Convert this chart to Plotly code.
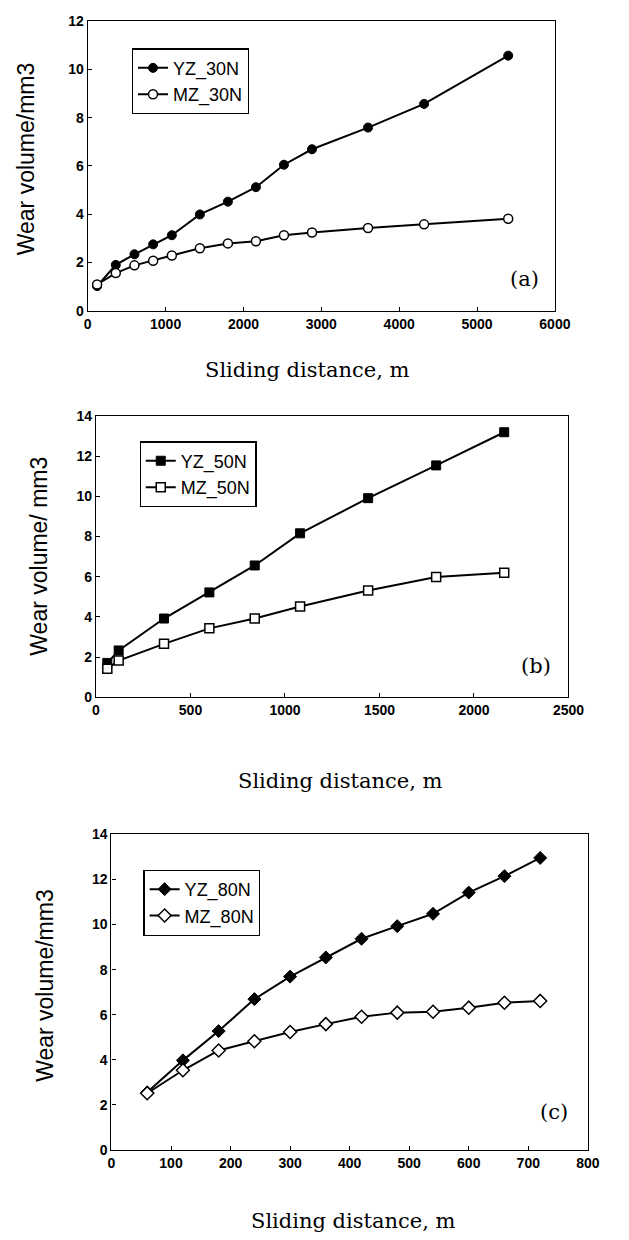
import plotly.graph_objects as go

# ---- data ----
dist_a = [120, 360, 600, 840, 1080, 1440, 1800, 2160, 2520, 2880, 3600, 4320, 5400]
yz_30n = [1.02, 1.90, 2.34, 2.75, 3.13, 3.99, 4.52, 5.12, 6.05, 6.69, 7.59, 8.57, 10.57]
mz_30n = [1.09, 1.56, 1.88, 2.07, 2.29, 2.59, 2.79, 2.88, 3.13, 3.24, 3.43, 3.58, 3.81]

dist_b = [60, 120, 360, 600, 840, 1080, 1440, 1800, 2160]
yz_50n = [1.71, 2.33, 3.92, 5.22, 6.56, 8.16, 9.91, 11.54, 13.19]
mz_50n = [1.42, 1.83, 2.66, 3.43, 3.92, 4.52, 5.31, 5.99, 6.20]

dist_c = [60, 120, 180, 240, 300, 360, 420, 480, 540, 600, 660, 720]
yz_80n = [2.55, 3.97, 5.27, 6.69, 7.69, 8.54, 9.37, 9.93, 10.48, 11.42, 12.15, 12.96]
mz_80n = [2.51, 3.53, 4.41, 4.82, 5.23, 5.58, 5.91, 6.09, 6.13, 6.31, 6.53, 6.61]

ticks_a = [0, 1000, 2000, 3000, 4000, 5000, 6000]
ticks_b = [0, 500, 1000, 1500, 2000, 2500]
ticks_c = [0, 100, 200, 300, 400, 500, 600, 700, 800]
yticks_a = [0, 2, 4, 6, 8, 10, 12]
yticks_bc = [0, 2, 4, 6, 8, 10, 12, 14]

W, H = 629, 1240
def px(x): return x / W
def py(y): return 1 - y / H

fig = go.Figure()

line = dict(color="black", width=2)

def add_pair(x, y1, y2, n1, n2, sym, size, xa, ya, leg):
    fig.add_trace(go.Scatter(x=x, y=y1, name=n1, mode="lines+markers",
                             line=line, xaxis=xa, yaxis=ya, legend=leg,
                             marker=dict(symbol=sym, size=size, color="black",
                                         line=dict(color="black", width=1))))
    fig.add_trace(go.Scatter(x=x, y=y2, name=n2, mode="lines+markers",
                             line=line, xaxis=xa, yaxis=ya, legend=leg,
                             marker=dict(symbol=sym, size=size, color="white",
                                         line=dict(color="black", width=1.5))))

add_pair(dist_a, yz_30n, mz_30n, "YZ_30N", "MZ_30N", "circle", 9, "x", "y", "legend")
add_pair(dist_b, yz_50n, mz_50n, "YZ_50N", "MZ_50N", "square", 9, "x2", "y2", "legend2")
add_pair(dist_c, yz_80n, mz_80n, "YZ_80N", "MZ_80N", "diamond", 10, "x3", "y3", "legend3")

tickfont = dict(family="Liberation Sans, Arial", size=14, color="black", weight="bold")
axcommon = dict(showline=True, linecolor="black", linewidth=1.2, mirror=True,
                ticks="inside", ticklen=4, tickcolor="black", tickwidth=1,
                showgrid=False, zeroline=False, tickfont=tickfont, fixedrange=True)

fig.update_layout(
    width=W, height=H, margin=dict(l=0, r=0, t=0, b=0),
    paper_bgcolor="white", plot_bgcolor="white",
    xaxis=dict(domain=[px(86.5), px(569)], anchor="y", range=[0, 6000],
               tickvals=ticks_a, **axcommon),
    yaxis=dict(domain=[py(306.7), py(13.3)], anchor="x", range=[0, 12],
               tickvals=yticks_a, **axcommon),
    xaxis2=dict(domain=[px(95), px(583)], anchor="y2", range=[0, 2500],
                tickvals=ticks_b, **axcommon),
    yaxis2=dict(domain=[py(698.3), py(413.3)], anchor="x2", range=[0, 14],
                tickvals=yticks_bc, **axcommon),
    xaxis3=dict(domain=[px(111), px(603)], anchor="y3", range=[0, 800],
                tickvals=ticks_c, **axcommon),
    yaxis3=dict(domain=[py(1156.7), py(837.3)], anchor="x3", range=[0, 14],
                tickvals=yticks_bc, **axcommon),
    showlegend=True,
)

legfont = dict(family="Liberation Sans, Arial", size=18, color="black")
legcommon = dict(font=legfont, bordercolor="black", borderwidth=1.2, bgcolor="white",
                 xanchor="left", yanchor="top", tracegroupgap=0, itemwidth=30)
fig.update_layout(
    legend=dict(x=px(132), y=py(41), **legcommon),
    legend2=dict(x=px(140), y=py(439), **legcommon),
    legend3=dict(x=px(144), y=py(873), **legcommon),
)

serif = dict(family="DejaVu Serif", size=21, color="black")
ytitle = dict(family="Liberation Sans, Arial", size=23, color="black")
ann = []
for txt, x, y in [("(a)", 538, 275), ("(b)", 549, 667), ("(c)", 568, 1118)]:
    ann.append(dict(text=txt, x=px(x), y=py(y), xref="paper", yref="paper",
                    showarrow=False, font=serif, xanchor="center", yanchor="middle"))
for x, y in [(313, 367), (348, 783), (361, 1229)]:
    ann.append(dict(text="Sliding distance, m", x=px(x), y=py(y), xref="paper", yref="paper",
                    showarrow=False, font=serif, xanchor="center", yanchor="middle"))
for txt, x, y in [("Wear volume/mm3", 23, 153), ("Wear volume/ mm3", 36, 555), ("Wear volume/mm3", 43, 990)]:
    ann.append(dict(text=txt, x=px(x), y=py(y), xref="paper", yref="paper", textangle=-90,
                    showarrow=False, font=ytitle, xanchor="center", yanchor="middle"))
fig.update_layout(annotations=ann)

fig.write_html("out.html", config={"displayModeBar": False},
               post_script="document.body.style.margin='0';document.body.style.overflow='hidden';")
